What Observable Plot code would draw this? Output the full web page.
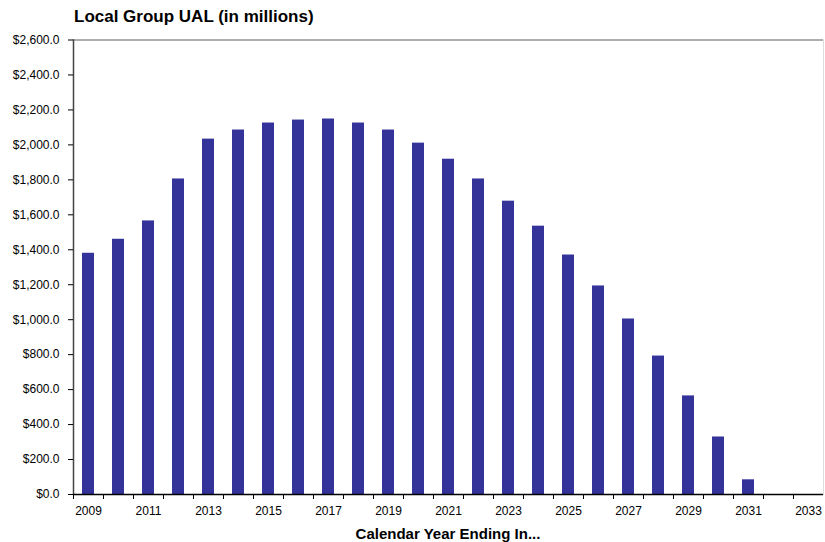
<!DOCTYPE html>
<html>
<head>
<meta charset="utf-8">
<script src="https://cdn.jsdelivr.net/npm/d3@7"></script>
<script src="https://cdn.jsdelivr.net/npm/@observablehq/plot@0.6"></script>
<style>
  body { margin: 0; background: #fff; font-family: Arial, "Liberation Sans", sans-serif; }
  #wrap { position: relative; width: 825px; height: 542px; }
  #title { position: absolute; left: 74px; top: 7px; font-size: 17px; font-weight: bold; color: #000; white-space: nowrap; }
  #xlabel { position: absolute; left: 73px; width: 750px; top: 525px; text-align: center; font-size: 15px; font-weight: bold; color: #000; white-space: nowrap; }
  #chart svg text { font-size: 12px; font-family: Arial, "Liberation Sans", sans-serif; }
</style>
</head>
<body>
<div id="wrap">
  <div id="chart"></div>
  <div id="title">Local Group UAL (in millions)</div>
  <div id="xlabel">Calendar Year Ending In...</div>
</div>
<script>
const years = [2009,2010,2011,2012,2013,2014,2015,2016,2017,2018,2019,2020,2021,2022,2023,2024,2025,2026,2027,2028,2029,2030,2031,2032,2033];
const ual = [1380,1460,1565,1805,2033,2085,2125,2142,2148,2125,2085,2010,1918,1805,1678,1535,1370,1193,1004,792,564,329,84,0,0];
const yTicks = [0,200,400,600,800,1000,1200,1400,1600,1800,2000,2200,2400,2600];
const xLabelYears = years.filter(y => y % 2 === 1);

const data = years.map((y, i) => ({year: y, value: ual[i]}));

const W = 825, H = 542, mL = 73, mR = 2, mT = 39.5, mB = 48;
const step = (W - mL - mR) / years.length;

const chart = Plot.plot({
  width: W, height: H,
  marginLeft: mL, marginRight: mR, marginTop: mT, marginBottom: mB,
  style: {fontFamily: "Arial, 'Liberation Sans', sans-serif", fontSize: "12px", color: "#000", background: "#fff"},
  x: {type: "band", domain: years, paddingInner: 0.6, paddingOuter: 0.3, axis: null},
  y: {domain: [0, 2600], axis: null},
  marks: [
    Plot.frame({stroke: "#ddd"}),
    Plot.ruleY([2600], {stroke: "#999", strokeWidth: 1.5}),
    Plot.barY(data, {x: "year", y: "value", fill: "#333399"}),
    Plot.frame({anchor: "left", stroke: "#444", strokeWidth: 1.5}),
    Plot.ruleY([0], {stroke: "#000", strokeWidth: 1.5}),
    Plot.axisY({ticks: yTicks, tickFormat: d3.format("$,.1f"), tickSize: 5, tickPadding: 9, stroke: "#000", fill: "#000", label: null, fontSize: 12}),
    Plot.axisX({ticks: years, tickSize: 5, text: null, dx: -step / 2, stroke: "#000", label: null}),
    Plot.axisX({ticks: xLabelYears, tickFormat: d => String(d), tickSize: 0, tickPadding: 12, fill: "#000", label: null, fontSize: 12})
  ]
});
document.getElementById("chart").appendChild(chart);
</script>
</body>
</html>
